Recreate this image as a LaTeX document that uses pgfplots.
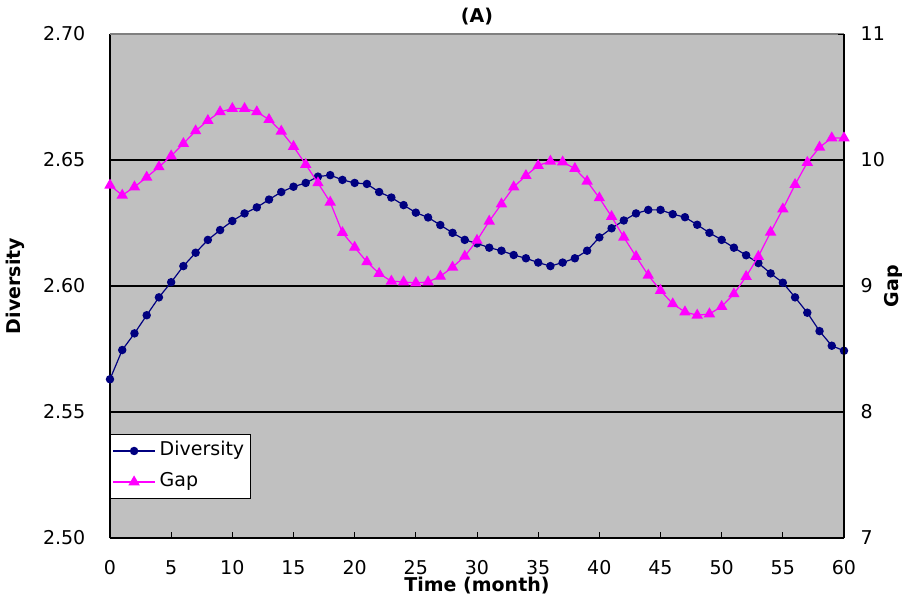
\documentclass[border=0pt]{standalone}
\usepackage{pgfplots}
\pgfplotsset{compat=1.18}
\usepackage{pgfplotstable}
\usepackage{fontspec}
\setmainfont{DejaVu Sans}
\definecolor{bggray}{HTML}{C0C0C0}
\definecolor{divcol}{HTML}{000080}
\definecolor{gapcol}{HTML}{FF00FF}
\definecolor{topgray}{HTML}{808080}

\pgfplotstableread{
x y
0 2.5630
1 2.5746
2 2.5812
3 2.5884
4 2.5955
5 2.6015
6 2.6079
7 2.6132
8 2.6183
9 2.6222
10 2.6258
11 2.6288
12 2.6312
13 2.6343
14 2.6373
15 2.6394
16 2.6409
17 2.6434
18 2.6440
19 2.6421
20 2.6409
21 2.6405
22 2.6373
23 2.6351
24 2.6321
25 2.6291
26 2.6272
27 2.6242
28 2.6211
29 2.6183
30 2.6169
31 2.6152
32 2.6140
33 2.6123
34 2.6110
35 2.6093
36 2.6079
37 2.6093
38 2.6110
39 2.6140
40 2.6193
41 2.6229
42 2.6260
43 2.6288
44 2.6302
45 2.6302
46 2.6285
47 2.6273
48 2.6243
49 2.6211
50 2.6183
51 2.6152
52 2.6122
53 2.6091
54 2.6050
55 2.6013
56 2.5955
57 2.5894
58 2.5821
59 2.5763
60 2.5743
}\divtable

\pgfplotstableread{
x y
0 9.800
1 9.720
2 9.786
3 9.863
4 9.945
5 10.032
6 10.130
7 10.231
8 10.313
9 10.382
10 10.408
11 10.408
12 10.382
13 10.321
14 10.228
15 10.107
16 9.964
17 9.818
18 9.665
19 9.424
20 9.307
21 9.191
22 9.099
23 9.038
24 9.032
25 9.024
26 9.032
27 9.077
28 9.149
29 9.236
30 9.362
31 9.514
32 9.651
33 9.786
34 9.876
35 9.956
36 9.990
37 9.984
38 9.932
39 9.831
40 9.699
41 9.551
42 9.387
43 9.234
44 9.085
45 8.964
46 8.858
47 8.794
48 8.768
49 8.778
50 8.837
51 8.937
52 9.075
53 9.234
54 9.427
55 9.611
56 9.805
57 9.980
58 10.101
59 10.175
60 10.175
}\gaptable

\begin{document}
\begin{tikzpicture}
\pgfplotsset{
  every axis/.append style={
    scale only axis, width=367pt, height=252pt,
    xmin=0, xmax=60,
    font=\fontsize{9.5}{11}\selectfont,
    /pgf/number format/assume math mode=true,
    tick align=inside,
    major tick length=3pt,
    tick style={black, line width=0.5pt},
  }
}
\begin{axis}[
  name=ax,
  axis background/.style={fill=bggray},
  axis x line*=bottom, axis y line*=left,
  axis line style={black, line width=0.6pt},
  ymin=2.5, ymax=2.7,
  ytick={2.50,2.55,2.60,2.65,2.70},
  minor ytick={2.55,2.60,2.65},
  minor tick length=0pt,
  yminorgrids,
  minor grid style={black, line width=0.6pt},
  xtick={0,5,...,60},
  yticklabel style={/pgf/number format/.cd, fixed, precision=2, fixed zerofill, /tikz/.cd, anchor=east, xshift=-8.8pt},
  xticklabel style={anchor=center, yshift=-15pt},
  xlabel={\bfseries Time (month)},
  xlabel style={at={(axis description cs:0.5,-0.0952)}, anchor=center},
  ylabel={\bfseries Diversity},
  ylabel style={at={(axis description cs:-0.1294,0.5)}, anchor=center},
]
\draw[topgray, line width=0.6pt] (rel axis cs:0,1) -- (rel axis cs:1,1);
\addplot[color=divcol, line width=0.6pt, mark=*, mark size=1.8pt, mark options={fill=divcol, draw=divcol}] table[x=x,y=y] {\divtable};
\end{axis}
\begin{axis}[
  axis y line*=right, axis x line=none,
  axis line style={black, line width=0.6pt},
  ymin=7, ymax=11,
  ytick={7,8,9,10,11},
  yticklabel style={anchor=west, xshift=4.8pt},
  ylabel={\bfseries Gap},
  ylabel style={at={(axis description cs:1.0668,0.5)}, anchor=center},
  legend style={at={(rel axis cs:0,0.0774)}, anchor=south west, draw=black, fill=white,
    line width=0.5pt, inner xsep=1pt, inner ysep=1pt, row sep=1pt,
    font=\fontsize{9.5}{11}\selectfont,
    nodes={inner xsep=2pt, inner ysep=2.5pt, text height=7pt, text depth=2.5pt}},
  legend cell align=left,
  legend image code/.code={\draw[#1, mark repeat=2, mark phase=2] plot coordinates {(0pt,0pt) (10.5pt,0pt) (21pt,0pt)};},
]
\addlegendimage{color=divcol, line width=0.6pt, mark=*, mark size=1.8pt, mark options={fill=divcol, draw=divcol}}
\addlegendentry{Diversity}
\addplot[color=gapcol, line width=0.6pt, mark=triangle*, mark size=2.7pt, mark options={fill=gapcol, draw=gapcol}] table[x=x,y=y] {\gaptable};
\addlegendentry{Gap}
\end{axis}
\node[anchor=center, font=\fontsize{9.5}{11}\selectfont\bfseries] at ([yshift=8.5pt]ax.north) {(A)};
\pgfresetboundingbox
\path (ax.south west) ++(-55pt,-31pt) rectangle ++(452.5pt,300pt);
\end{tikzpicture}
\end{document}
